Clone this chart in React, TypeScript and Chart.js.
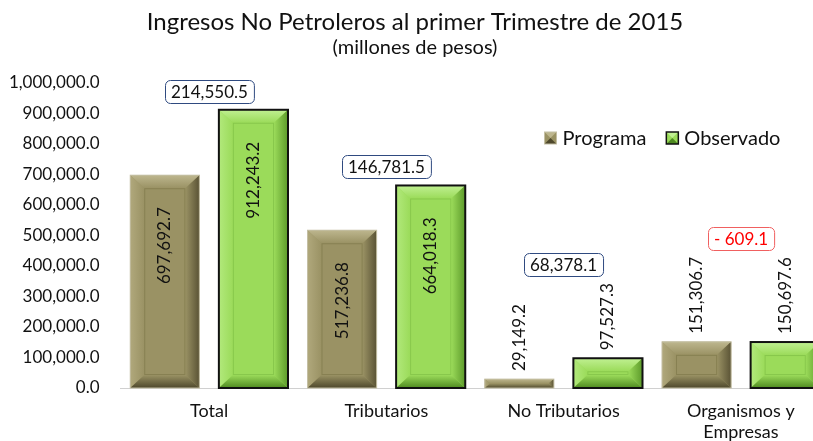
import React, { useEffect, useRef } from "react";
import { Chart, registerables } from "chart.js";

Chart.register(...registerables);

const categories: (string | string[])[] = ["Total", "Tributarios", "No Tributarios", ["Organismos y", "Empresas"]];
const seriesNames = ["Programa", "Observado"];
const programa = [697692.7, 517236.8, 29149.2, 151306.7];
const observado = [912243.2, 664018.3, 97527.3, 150697.6];
const yMin = 0;
const yMax = 1000000;
const yStep = 100000;
const titleText = "Ingresos No Petroleros al primer Trimestre de 2015";
const subtitleText = "(millones de pesos)";

const FONT = "Lato, 'Open Sans', sans-serif";

const fmt = (n: number) =>
  n.toLocaleString("en-US", { minimumFractionDigits: 1, maximumFractionDigits: 1 });
const fmtDiff = (n: number) => (n < 0 ? "- " + fmt(Math.abs(n)) : fmt(n));

const palettes = [
  { face: "#9a9264", top: "#bdb68e", left: "#b0a87c", right: "#5a5335", bottom: "#4e482c", inner: "#878052", outline: "#c4bfa4", outlineW: 1 },
  { face: "#9bdb5a", top: "#c0f092", left: "#b2e97c", right: "#5c9a2a", bottom: "#4e8a20", inner: "#88c84c", outline: "#111111", outlineW: 2 },
];

const bevelPlugin = {
  id: "bevel",
  afterDatasetsDraw(chart: any) {
    const ctx = chart.ctx as CanvasRenderingContext2D;
    const area = chart.chartArea;
    ctx.save();
    const labelInfo: { top: number }[][] = [];
    chart.data.datasets.forEach((ds: any, di: number) => {
      const meta = chart.getDatasetMeta(di);
      const p = palettes[di];
      meta.data.forEach((bar: any, i: number) => {
        const w = bar.width;
        const l = bar.x - w / 2;
        const r = bar.x + w / 2;
        const t = bar.y;
        const b = bar.base;
        const h = b - t;
        const bvY = Math.min(13, h / 2);
        const bvX = Math.min(14, w / 2, h / 2 + 1);
        const poly = (pts: number[][], fill: any) => {
          ctx.beginPath();
          ctx.moveTo(pts[0][0], pts[0][1]);
          for (let k = 1; k < pts.length; k++) ctx.lineTo(pts[k][0], pts[k][1]);
          ctx.closePath();
          ctx.fillStyle = fill;
          ctx.fill();
        };
        const grad = (x0: number, y0: number, x1: number, y1: number, c0: string, c1: string) => {
          const g = ctx.createLinearGradient(x0, y0, x1, y1);
          g.addColorStop(0, c0);
          g.addColorStop(1, c1);
          return g;
        };
        poly([[l, t], [r, t], [r - bvX, t + bvY], [l + bvX, t + bvY]], grad(0, t, 0, t + bvY, p.top, p.face));
        poly([[l, t], [l + bvX, t + bvY], [l + bvX, b - bvY], [l, b]], grad(l, 0, l + bvX, 0, p.left, p.face));
        poly([[r, t], [r, b], [r - bvX, b - bvY], [r - bvX, t + bvY]], grad(r, 0, r - bvX, 0, p.right, p.face));
        poly([[l, b], [l + bvX, b - bvY], [r - bvX, b - bvY], [r, b]], grad(0, b, 0, b - bvY, p.bottom, p.face));
        if (h > 2 * bvY + 2) {
          ctx.strokeStyle = p.inner;
          ctx.lineWidth = 1;
          ctx.strokeRect(l + bvX + 0.5, t + bvY + 0.5, w - 2 * bvX - 1, h - 2 * bvY - 1);
        }
        ctx.strokeStyle = p.outline;
        ctx.lineWidth = p.outlineW;
        ctx.strokeRect(l, t, w, h);

        // value label
        ctx.font = `17px ${FONT}`;
        const val = ds.data[i];
        const txt = fmt(val);
        const tw = ctx.measureText(txt).width;
        const inside = h > tw + 45;
        ctx.save();
        ctx.translate(bar.x, inside ? t + 32 : t - 8);
        ctx.rotate(-Math.PI / 2);
        ctx.fillStyle = "#111";
        ctx.textBaseline = "middle";
        ctx.textAlign = inside ? "right" : "left";
        ctx.fillText(txt, 0, 0);
        ctx.restore();
        if (!labelInfo[i]) labelInfo[i] = [];
        labelInfo[i][di] = { top: inside ? t : t - 8 - tw };
      });
    });

    // difference boxes
    const xs = chart.scales.x;
    ctx.font = `17px ${FONT}`;
    categories.forEach((_, i) => {
      const diff = Math.round((observado[i] - programa[i]) * 10) / 10;
      const txt = fmtDiff(diff);
      const anchor = Math.min(...labelInfo[i].map((o) => o.top));
      const bh = 23;
      const tw = ctx.measureText(txt).width;
      const bw = tw + 12;
      const cx = xs.getPixelForValue(i);
      const by = Math.round(anchor - 7 - bh);
      const bx = Math.round(cx - bw / 2);
      const neg = diff < 0;
      ctx.beginPath();
      (ctx as any).roundRect(bx + 0.5, by + 0.5, bw, bh, 5);
      ctx.fillStyle = "#ffffff";
      ctx.fill();
      ctx.strokeStyle = neg ? "#f06060" : "#2f4a80";
      ctx.lineWidth = 1;
      ctx.stroke();
      ctx.fillStyle = neg ? "#ff0000" : "#111";
      ctx.textAlign = "center";
      ctx.textBaseline = "middle";
      ctx.fillText(txt, bx + bw / 2, by + bh / 2 + 1);
    });

    // legend
    let lx = area.right - 285;
    const ly = area.top + 55;
    ctx.font = `20px ${FONT}`;
    ctx.textAlign = "left";
    ctx.textBaseline = "middle";
    seriesNames.forEach((name, di) => {
      const p = palettes[di];
      const s = 12;
      ctx.fillStyle = p.face;
      ctx.fillRect(lx, ly - s / 2, s, s);
      ctx.fillStyle = p.top;
      ctx.beginPath();
      ctx.moveTo(lx, ly - s / 2);
      ctx.lineTo(lx + s, ly - s / 2);
      ctx.lineTo(lx + s / 2, ly);
      ctx.closePath();
      ctx.fill();
      ctx.fillStyle = p.bottom;
      ctx.beginPath();
      ctx.moveTo(lx, ly + s / 2);
      ctx.lineTo(lx + s, ly + s / 2);
      ctx.lineTo(lx + s / 2, ly);
      ctx.closePath();
      ctx.fill();
      ctx.strokeStyle = di === 1 ? "#111" : p.outline;
      ctx.lineWidth = di === 1 ? 1.5 : 1;
      ctx.strokeRect(lx, ly - s / 2, s, s);
      ctx.fillStyle = "#111";
      ctx.fillText(name, lx + s + 6, ly + 1);
      lx += s + 6 + ctx.measureText(name).width + 20;
    });

    // titles
    ctx.textAlign = "center";
    ctx.fillStyle = "#111";
    ctx.font = `24px ${FONT}`;
    ctx.fillText(titleText, 415, 22);
    ctx.font = `20px ${FONT}`;
    ctx.fillText(subtitleText, 415, 48);
    ctx.restore();
  },
};

export default function App() {
  const ref = useRef<HTMLCanvasElement>(null);
  useEffect(() => {
    if (!ref.current) return;
    const chart = new Chart(ref.current, {
      type: "bar",
      data: {
        labels: categories as any,
        datasets: [
          { label: seriesNames[0], data: programa, backgroundColor: palettes[0].face, borderWidth: 0, categoryPercentage: 1, barPercentage: 0.78 },
          { label: seriesNames[1], data: observado, backgroundColor: palettes[1].face, borderWidth: 0, categoryPercentage: 1, barPercentage: 0.78 },
        ],
      },
      options: {
        responsive: false,
        devicePixelRatio: 1,
        animation: false,
        layout: { padding: { top: 83, right: 2.5, left: 0, bottom: 0 } },
        plugins: { legend: { display: false }, title: { display: false }, tooltip: { enabled: false } },
        scales: {
          x: {
            grid: { display: false },
            border: { display: true, color: "#d0d0d0", width: 1 },
            ticks: { padding: 4, color: "#111", font: { family: FONT, size: 18, lineHeight: 1.2 }, maxRotation: 0, autoSkip: false },
            afterFit: (s: any) => { s.height = 53; },
          },
          y: {
            min: yMin,
            max: yMax,
            grid: { display: false },
            border: { display: false },
            ticks: { stepSize: yStep, padding: 13, color: "#111", font: { family: FONT, size: 17 }, callback: (v: any) => fmt(Number(v)) },
            afterFit: (s: any) => { s.width = 120.5; },
          },
        },
      },
      plugins: [bevelPlugin],
    });
    return () => chart.destroy();
  }, []);
  return (
    <div style={{ position: "fixed", left: 0, top: 0, width: 813, height: 441, overflow: "hidden", background: "#fff" }}>
      <canvas ref={ref} width={832} height={441} style={{ width: 832, height: 441, display: "block" }} />
    </div>
  );
}
